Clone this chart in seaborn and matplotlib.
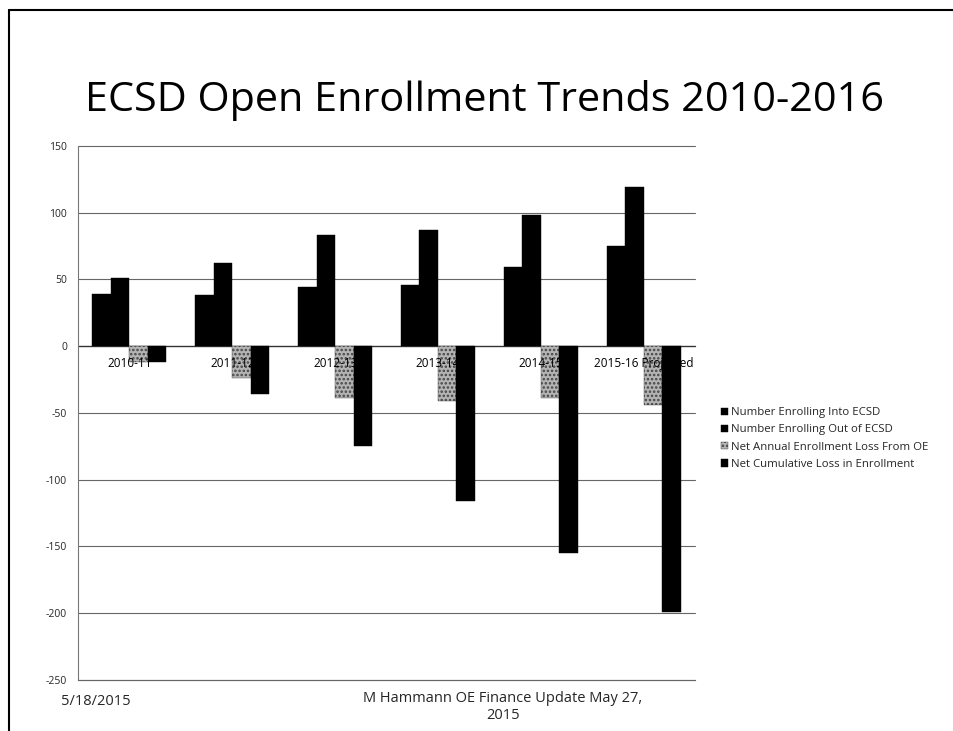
import matplotlib
matplotlib.use("Agg")
import matplotlib.pyplot as plt
import seaborn as sns
import pandas as pd
from matplotlib.lines import Line2D
from matplotlib.patches import Patch

categories = ["2010-11", "2011-12", "2012-13", "2013-14", "2014-15", "2015-16 Projected"]
series_names = ["Number Enrolling Into ECSD", "Number Enrolling Out of ECSD",
                "Net Annual Enrollment Loss From OE", "Net Cumulative Loss in Enrollment"]
into_ecsd = [39, 38, 44, 46, 59, 75]
out_of_ecsd = [51, 62, 83, 87, 98, 119]
net_annual = [-12, -24, -39, -41, -39, -44]
net_cumulative = [-12, -36, -75, -116, -155, -199]
y_ticks = [-250, -200, -150, -100, -50, 0, 50, 100, 150]

rows = []
for name, vals in zip(series_names, [into_ecsd, out_of_ecsd, net_annual, net_cumulative]):
    for c, v in zip(categories, vals):
        rows.append({"Year": c, "Series": name, "Value": v})
df = pd.DataFrame(rows)

sns.set_theme(style="white")
plt.rcParams['font.family'] = ['Open Sans', 'DejaVu Sans']
plt.rcParams['hatch.linewidth'] = 1.2

fig = plt.figure(figsize=(9.54, 7.31), dpi=100)
ax = fig.add_axes([0.0818, 0.0698, 0.6468, 0.7305])

palette = ["black", "black", "#b4b4b4", "black"]
sns.barplot(data=df, x="Year", y="Value", hue="Series", hue_order=series_names,
            order=categories, palette=palette, width=0.72, dodge=True,
            saturation=1, ax=ax, legend=False, zorder=2)

n = len(categories)
for i, p in enumerate(ax.patches):
    s = i // n
    if s < 4:
        p.set_edgecolor("black" if s != 2 else "#444444")
        p.set_linewidth(0.3)
        if s == 2:
            p.set_hatch("....")

ax.set_ylim(-250, 150)
ax.set_yticks(y_ticks)
ax.set_yticklabels([str(t) for t in y_ticks], fontsize=7.5)
ax.tick_params(axis='y', length=0, pad=8)
for t in y_ticks:
    ax.axhline(t, color="#333333" if t == 0 else "#666666", lw=1.0 if t == 0 else 0.8,
               zorder=1, clip_on=False)

ax.set_xticks(range(n))
ax.set_xticklabels([])
ax.tick_params(axis='x', length=0)
for i, c in enumerate(categories):
    ax.text(i, -13, c, ha="center", va="center", fontsize=8.5, zorder=5, color="black")

ax.set_xlabel("")
ax.set_ylabel("")
for side in ["top", "right"]:
    ax.spines[side].set_visible(False)
ax.spines["bottom"].set_color("#666666")
ax.spines["bottom"].set_linewidth(0.8)
ax.spines["left"].set_color("#777777")
ax.spines["left"].set_linewidth(0.8)

handles = []
for name, col in zip(series_names, palette):
    h = Patch(facecolor=col, edgecolor="black" if col == "black" else "#444444",
              hatch="...." if col != "black" else None, linewidth=0.3, label=name)
    handles.append(h)
fig.legend(handles=handles, loc="upper left", bbox_to_anchor=(0.745, 0.457),
           frameon=False, fontsize=8.2, handlelength=0.6, handleheight=0.6,
           handletextpad=0.3, labelspacing=0.55)

fig.text(0.508, 0.862, "ECSD Open Enrollment Trends 2010-2016", ha="center", va="center",
         fontsize=29.8, color="black")
fig.text(0.064, 0.041, "5/18/2015", ha="left", va="center", fontsize=10.5)
fig.text(0.527, 0.033, "M Hammann OE Finance Update May 27,\n2015", ha="center", va="center",
         fontsize=10.5, linespacing=1.25)

fig.add_artist(Line2D([0.009, 0.009], [0.0, 0.987], color="black", lw=1.5, transform=fig.transFigure))
fig.add_artist(Line2D([0.009, 1.0], [0.987, 0.987], color="black", lw=1.5, transform=fig.transFigure))

fig.savefig("out.png", dpi=100)
